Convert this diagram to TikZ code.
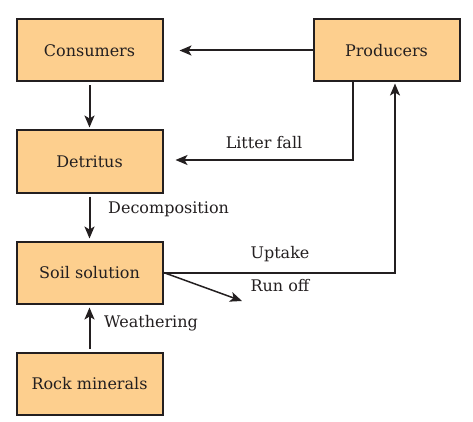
\documentclass[tikz,border=0pt]{standalone}
\usepackage{fontspec}
\setmainfont{DejaVu Serif}
\usetikzlibrary{arrows.meta}
\definecolor{boxfill}{RGB}{253,207,142}
\definecolor{ink}{RGB}{35,31,32}
\begin{document}
\begin{tikzpicture}[x=1pt,y=-1pt,
  box/.style={draw=ink,line width=2pt,fill=boxfill,minimum width=146pt,minimum height=62pt,inner sep=0pt,font=\fontsize{16}{18}\selectfont,text=ink},
  arr/.style={draw=ink,line width=2pt,-{Stealth[length=12pt,width=10pt,inset=3pt]}},
  lbl/.style={font=\fontsize{16}{18}\selectfont,text=ink,inner sep=0pt}]
\useasboundingbox (0,0) rectangle (473,422);
\node[box] (cons) at (89.5,50.5) {Consumers};
\node[box] (prod) at (386.5,50.5) {Producers};
\node[box] (det) at (89.5,161.5) {Detritus};
\node[box] (soil) at (89.5,272.5) {Soil solution};
\node[box] (rock) at (89.5,384) {Rock minerals};
\coordinate (runoff) at (242,301);
\draw[arr,shorten >=16pt] (prod.west) -- (cons.east);
\draw[arr,shorten <=3pt,shorten >=2pt] (cons.south) -- (det.north);
\draw[arr,line width=1.3pt,shorten >=12pt] ([xshift=-33.5pt]prod.south) |- ([yshift=1.5pt]det.east);
\draw[arr,shorten <=3pt,shorten >=2pt] (det.south) -- (soil.north);
\draw[arr,shorten >=1pt] (soil.east) -| ([xshift=8.5pt]prod.south);
\draw[arr,line width=1.5pt] (soil.east) -- (runoff);
\draw[arr,shorten <=3pt,shorten >=3pt] (rock.north) -- (soil.south);
\node[lbl] (lf) at (264,143) {Litter fall};
\node[lbl,anchor=west] (dc) at (108,209) {Decomposition};
\node[lbl] (up) at (280,254) {Uptake};
\node[lbl] (ro) at (280,286) {Run off};
\node[lbl,anchor=west] (we) at (104,323) {Weathering};
\end{tikzpicture}
\end{document}
